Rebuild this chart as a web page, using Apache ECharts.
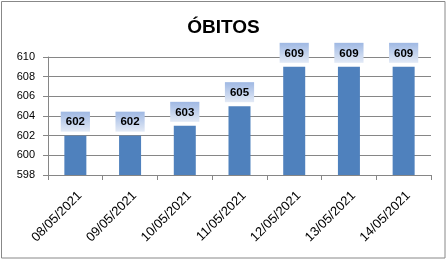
<!DOCTYPE html>
<html><head><meta charset="utf-8">
<script src="https://cdn.jsdelivr.net/npm/echarts@6/dist/echarts.min.js"></script>
<style>html,body{margin:0;padding:0;background:#fff}#c{width:447px;height:261px}</style>
</head><body><div id="c"></div>
<script>
var title = "ÓBITOS";
var categories = ["08/05/2021","09/05/2021","10/05/2021","11/05/2021","12/05/2021","13/05/2021","14/05/2021"];
var values = [602, 602, 603, 605, 609, 609, 609];
var yMin = 598, yMax = 610, yStep = 2;

var chart = echarts.init(document.getElementById('c'), null, {renderer:'canvas'});
var font = '"Liberation Sans", Arial, sans-serif';
chart.setOption({
  backgroundColor:'#fff',
  animation:false,
  title:{text:title, left:'center', top:13, textStyle:{fontFamily:font, fontSize:19, fontWeight:'bold', color:'#000'}},
  graphic:[{type:'rect', shape:{x:1.5,y:1.5,width:443.5,height:256.5}, style:{fill:'none', stroke:'#888', lineWidth:1}, silent:true}],
  grid:{left:48, right:16, top:57, bottom:86},
  xAxis:{type:'category', data:categories,
    axisLine:{lineStyle:{color:'#868686', width:1}},
    axisTick:{show:true, length:5, lineStyle:{color:'#868686'}},
    axisLabel:{rotate:45, fontFamily:font, fontSize:13, color:'#000', margin:14, verticalAlign:'top'}},
  yAxis:{type:'value', min:yMin, max:yMax, interval:yStep,
    axisLine:{show:true, lineStyle:{color:'#868686'}},
    axisTick:{show:true, length:5, lineStyle:{color:'#868686'}},
    splitLine:{lineStyle:{color:'#868686', width:1}},
    axisLabel:{fontFamily:font, fontSize:11, color:'#000', margin:13}},
  series:[{type:'bar', data:values, barWidth:22, itemStyle:{color:'#4f81bd'},
    label:{show:true, position:'top', distance:4, fontFamily:font, fontSize:11.5, fontWeight:'bold', color:'#000',
      lineHeight:11, padding:[5,5,4,5],
      backgroundColor:new echarts.graphic.LinearGradient(0,0,0,1,[{offset:0,color:'#9fb8e3'},{offset:1,color:'#e3eaf6'}])}}]
});
</script></body></html>
